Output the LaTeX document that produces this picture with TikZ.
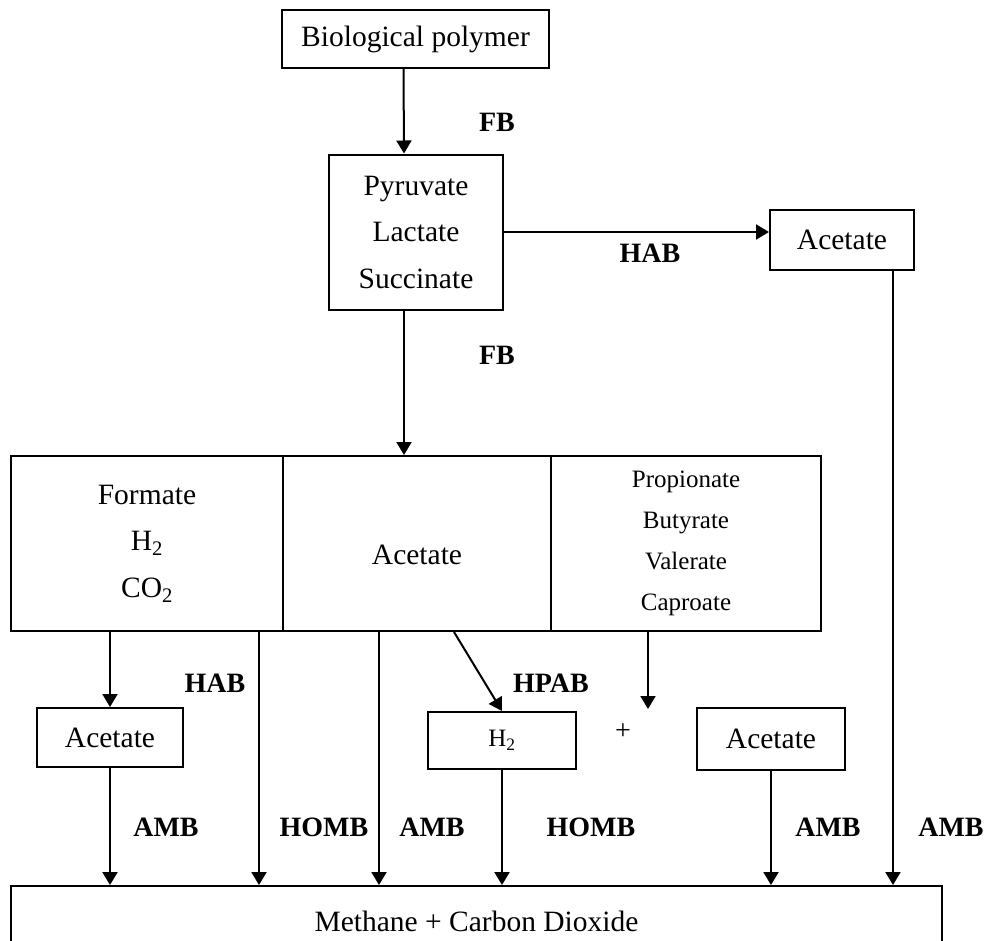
\documentclass[tikz,border=0pt]{standalone}
\usepackage{fontspec}
\setmainfont{Liberation Serif}
\usetikzlibrary{arrows.meta,calc}
\begin{document}
\begin{tikzpicture}[x=1pt,y=-1pt,
  box/.style={draw,line width=2pt,inner sep=0pt,align=center,font=\fontsize{29.5}{46.5}\selectfont},
  smallbox/.style={box,font=\fontsize{25}{41}\selectfont},
  arr/.style={line width=2pt,-{Triangle[length=13pt,width=15pt]}},
  lbl/.style={font=\fontsize{28}{30}\selectfont\bfseries,inner sep=0pt}]
\useasboundingbox (0,0) rectangle (990,940);
% boxes
\node[box,minimum width=267pt,minimum height=58pt] (bio) at (415.5,39) {Biological polymer};
\node[box,minimum width=174pt,minimum height=155pt] (pyr) at (416,232) {Pyruvate\\Lactate\\Succinate};
\node[box,minimum width=144pt,minimum height=60pt] (acR) at (842,240) {Acetate};
\node[box,minimum width=272pt,minimum height=175pt] (form) at (147,543.5) {Formate\\H\textsubscript{2}\\CO\textsubscript{2}};
\node[box,minimum width=268pt,minimum height=175pt] (acM) at (417,543.5) {\raisebox{-21pt}[0pt][0pt]{Acetate}};
\node[smallbox,minimum width=270pt,minimum height=175pt] (prop) at (686,543.5) {Propionate\\Butyrate\\Valerate\\Caproate};
\node[box,minimum width=146pt,minimum height=59pt] (acL) at (110,737.5) {Acetate};
\node[smallbox,minimum width=148pt,minimum height=57pt] (h2) at (502,740.5) {H\textsubscript{2}};
\node[box,minimum width=148pt,minimum height=62pt] (acS) at (771,739) {Acetate};
\node[box,minimum width=931pt,minimum height=70pt] (meth) at (476.5,921) {Methane + Carbon Dioxide};
\node[font=\fontsize{28}{30}\selectfont,inner sep=0pt] (plus) at (623,732) {+};
% connectors
\draw[arr] ([xshift=-12pt]bio.south) -- ([xshift=-12pt]pyr.north);
\draw[arr] (pyr.east) -- (pyr.east -| acR.west);
\draw[arr] ([xshift=-12pt]pyr.south) -- ([xshift=-12pt]pyr.south |- acM.north);
\draw[arr] (form.south -| acL.north) -- (acL.north);
\draw[arr] (acL.south) -- (acL.south |- meth.north);
\draw[arr] ([xshift=-25pt]form.south east) -- ([xshift=-25pt]form.south east |- meth.north);
\draw[arr] ([xshift=97pt]acM.south west) -- ([xshift=97pt]acM.south west |- meth.north);
\draw[arr] ([xshift=172pt]acM.south west) -- (h2.north);
\draw[arr] (h2.south) -- (h2.south |- meth.north);
\coordinate (pt) at ($(prop.south)+(-38,77)$);
\draw[arr] (prop.south -| pt) -- (pt);
\draw[arr] (acS.south) -- (acS.south |- meth.north);
\draw[arr] ([xshift=51pt]acR.south) -- ([xshift=51pt]acR.south |- meth.north);
% labels
\node[lbl] (l1) at (497,122) {FB};
\node[lbl] (l2) at (650,253) {HAB};
\node[lbl] (l3) at (497,355) {FB};
\node[lbl] (l4) at (215,683) {HAB};
\node[lbl] (l5) at (551,683) {HPAB};
\node[lbl] (l6) at (166,827) {AMB};
\node[lbl] (l7) at (324,827) {HOMB};
\node[lbl] (l8) at (432,827) {AMB};
\node[lbl] (l9) at (591,827) {HOMB};
\node[lbl] (l10) at (828,827) {AMB};
\node[lbl] (l11) at (951,827) {AMB};
\end{tikzpicture}
\end{document}
